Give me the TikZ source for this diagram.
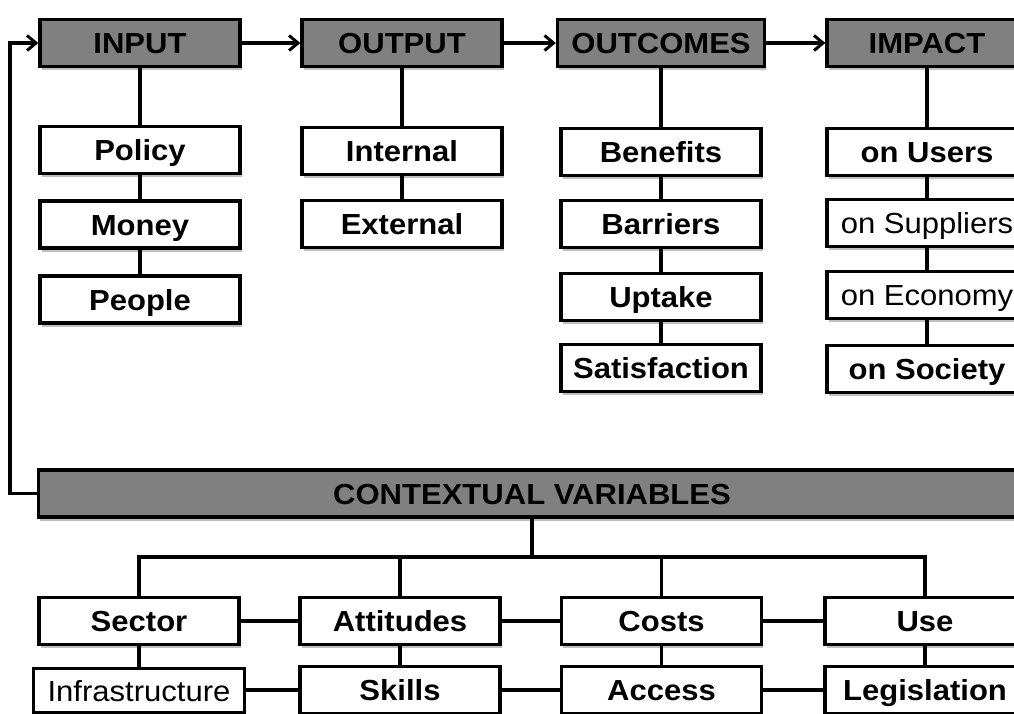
\documentclass[tikz,border=0pt]{standalone}
\usepackage{fontspec}
\setmainfont{Liberation Sans}[FakeStretch=1.07]
\usetikzlibrary{arrows.meta,shadows}
\definecolor{headgray}{RGB}{128,128,128}
\begin{document}
\begin{tikzpicture}[x=1pt,y=-1pt,
  box/.style={draw=black, line width=3.3pt, fill=white, minimum width=200pt, minimum height=47pt,
    inner sep=0pt, font=\fontsize{29}{30}\selectfont\bfseries, text height=21pt, text depth=0pt,
    drop shadow={shadow xshift=1.5pt, shadow yshift=-3.5pt, fill=black, opacity=0.25}},
  reg/.style={font=\fontsize{29}{30}\selectfont},
  head/.style={box, fill=headgray},
  conn/.style={line width=3.3pt},
  arr/.style={conn, -{Straight Barb[length=9pt,width=15pt,line width=3pt]}}]
\useasboundingbox (0,0) rectangle (1014,713);
\clip (0,0) rectangle (1014,713);

% headers
\node[head] (input) at (140,43) {INPUT};
\node[head] (output) at (402,43) {OUTPUT};
\node[head, minimum width=207pt] (outcomes) at (661,43) {OUTCOMES};
\node[head] (impact) at (927,43) {IMPACT};

% input column
\node[box] (policy) at (140,150) {Policy};
\node[box] (money) at (140,224.5) {Money};
\node[box] (people) at (140,299.5) {People};
% output column
\node[box] (internal) at (402,151) {Internal};
\node[box] (external) at (402,224) {External};
% outcomes column
\node[box] (benefits) at (661,152) {Benefits};
\node[box] (barriers) at (661,224) {Barriers};
\node[box] (uptake) at (661,297) {Uptake};
\node[box] (satisfaction) at (661,368) {Satisfaction};
% impact column
\node[box] (users) at (927,152) {on Users};
\node[box, reg] (suppliers) at (927,223) {on Suppliers};
\node[box, reg] (economy) at (927,295) {on Economy};
\node[box] (society) at (927,369) {on Society};

% contextual variables
\node[head, minimum width=987pt] (cv) at (532,493.5) {CONTEXTUAL VARIABLES};

\node[box] (sector) at (139,621) {Sector};
\node[box] (attitudes) at (400,621) {Attitudes};
\node[box] (costs) at (661.5,621) {Costs};
\node[box] (use) at (925,621) {Use};

\node[box, reg, minimum width=211pt, minimum height=44pt] (infra) at (139,690.5) {Infrastructure};
\node[box] (skills) at (400,690) {Skills};
\node[box] (access) at (661.5,690) {Access};
\node[box] (legislation) at (925,690) {Legislation};

% header arrows
\draw[arr] (input) -- (output);
\draw[arr] (output) -- (outcomes);
\draw[arr] (outcomes) -- (impact);
\draw[arr] (cv.west) -- ++(-27,0) |- (input.west);

% column connectors
\draw[conn] (input) -- (policy);
\draw[conn] (policy) -- (money);
\draw[conn] (money) -- (people);
\draw[conn] (output) -- (internal);
\draw[conn] (internal) -- (external);
\draw[conn] (outcomes) -- (benefits);
\draw[conn] (benefits) -- (barriers);
\draw[conn] (barriers) -- (uptake);
\draw[conn] (uptake) -- (satisfaction);
\draw[conn] (impact) -- (users);
\draw[conn] (users) -- (suppliers);
\draw[conn] (suppliers) -- (economy);
\draw[conn] (economy) -- (society);

% contextual tree
\coordinate (bus) at (532,557);
\draw[conn] (cv.south) -- (bus);
\draw[conn] (sector.north) |- (bus) -| (use.north);
\draw[conn] (attitudes.north) -- (attitudes.north |- bus);
\draw[conn] (costs.north) -- (costs.north |- bus);

\draw[conn] (sector) -- (attitudes);
\draw[conn] (attitudes) -- (costs);
\draw[conn] (costs) -- (use);
\draw[conn] (infra.east |- skills) -- (skills.west);
\draw[conn] (skills) -- (access);
\draw[conn] (access) -- (legislation);

\draw[conn] (sector) -- (infra);
\draw[conn] (attitudes) -- (skills);
\draw[conn] (costs) -- (access);
\draw[conn] (use) -- (legislation);
\end{tikzpicture}
\end{document}
